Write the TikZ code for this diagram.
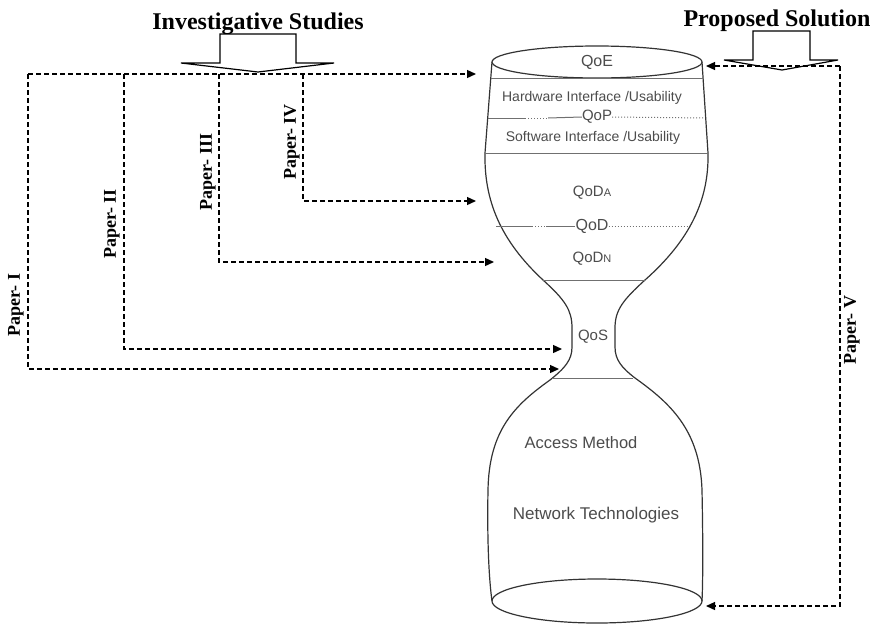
\documentclass[tikz,border=0pt]{standalone}
\usepackage{fontspec}
\setmainfont{Liberation Serif}
\newfontfamily\glassfont{Liberation Sans}
\usepackage{tikz}
\usetikzlibrary{arrows.meta, positioning}
\definecolor{glassline}{gray}{0.2}
\definecolor{glasstext}{gray}{0.3}
\tikzset{
link/.style={-{Triangle[length=9pt,width=8pt]}, dash pattern=on 5pt off 3pt, line width=1.3pt}, % dashed connectors
paper/.style={rotate=90, font=\bfseries\fontsize{18}{18}\selectfont, inner sep=1pt}, % the paper labels
title/.style={font=\bfseries\fontsize{24}{24}\selectfont, anchor=base}, % the two headings
glass/.style={draw=glassline, line width=1.2pt}, % outline of the hourglass
layer/.style={draw=glassline!70, line width=1pt}, % lines between layers
blockarrow/.style={draw, fill=white, line width=1.2pt, line join=miter},
}
\newcommand{\gtext}[1]{\glassfont\fontsize{#1}{#1}\selectfont\color{glasstext}}

\begin{document}
\begin{tikzpicture}[x=1pt,y=-1pt,inner sep=0pt]
\useasboundingbox (0,0) rectangle (872,624);
% headings and block arrows
\node[title] (inv) at (258,29) {Investigative Studies};
\node[title] (prop) at (777,26) {Proposed Solution};
\draw[blockarrow] (220,63) -- (220,34) -- (296,34) -- (296,63) -- (334,63) -- (258,72) -- (181,63) -- cycle;
\draw[blockarrow] (753,60) -- (753,31) -- (810,31) -- (810,60) -- (838,60) -- (782,70) -- (724,60) -- cycle;
% hourglass
\draw[glass] (492,62) -- (485,153) .. controls (484,200) and (500,240) .. (543,280)
  .. controls (565,300) and (572,310) .. (572,328) -- (572,347)
  .. controls (572,360) and (565,368) .. (550,380)
  .. controls (515,405) and (489,430) .. (488,490)
  .. controls (487,540) and (489,580) .. (492,601);
\draw[glass] (702,62) -- (708,153) .. controls (709,200) and (690,240) .. (645,280)
  .. controls (623,300) and (615,310) .. (615,328) -- (615,347)
  .. controls (615,360) and (622,368) .. (635,378)
  .. controls (670,403) and (700,430) .. (702,490)
  .. controls (703,540) and (703,580) .. (702,601);
\draw[glass, fill=white] (597,62) ellipse [x radius=105, y radius=16];
\draw[glass] (597,601) ellipse [x radius=105, y radius=22];
% layers
\node (qoe) at (597,62) {\gtext{16}QoE};
\node (hw) at (592,98) {\gtext{14}Hardware Interface /Usability};
\node (qop) at (597,117) {\gtext{15}QoP};
\node (sw) at (593,138) {\gtext{14}Software Interface /Usability};
\node (qoda) at (592,193) {\gtext{15}QoD{\fontsize{11}{11}\selectfont A}};
\node (qod) at (592,226) {\gtext{16}QoD};
\node (qodn) at (592,259) {\gtext{15}QoD{\fontsize{11}{11}\selectfont N}};
\node (qos) at (593,337) {\gtext{15}QoS};
\node (access) at (581,443) {\gtext{16.5}Access Method};
\node (net) at (596,515) {\gtext{17}Network Technologies};
\draw[layer] (491,78) -- (704,78);
\draw[layer] (488,118) -- (525,118);
\draw[layer, dotted] (525,118) -- (548,118);
\draw[layer] (548,118) -- (qop.west);
\draw[layer, dotted] (qop.east) -- (705,118);
\draw[layer] (485,153) -- (708,153);
\draw[layer] (496,226) -- (532,226);
\draw[layer, dotted] (532,226) -- (546,226);
\draw[layer] (546,226) -- (qod.west);
\draw[layer, dotted] (qod.east) -- (692,226);
\draw[layer] (543,280) -- (645,280);
\draw[layer] (552,378) -- (633,378);
% connectors
\coordinate (top1) at (28,74);
\coordinate (top2) at (124,74);
\coordinate (top3) at (219,74);
\coordinate (top4) at (303,74);
\coordinate (topE) at (476,74);
\coordinate (inA) at (476,201);
\coordinate (inN) at (494,262);
\coordinate (inS) at (562,349);
\coordinate (inS2) at (559,369);
\coordinate (topV) at (840,66);
\coordinate (inE) at (706,66);
\coordinate (inB) at (706,606);
\draw[link] (top1) -- (topE);
\draw[link] (top1) |- (inS2);
\draw[link] (top2) |- (inS);
\draw[link] (top3) |- (inN);
\draw[link] (top4) |- (inA);
\draw[link] (topV) -- (inE);
\draw[link] (topV) |- (inB);
% paper labels
\node[paper] (p1) at (16,305) {Paper- I};
\node[paper] (p2) at (112,224) {Paper- II};
\node[paper] (p3) at (208,172) {Paper- III};
\node[paper] (p4) at (292,142) {Paper- IV};
\node[paper] (p5) at (852,330) {Paper- V};
\end{tikzpicture}
\end{document}
